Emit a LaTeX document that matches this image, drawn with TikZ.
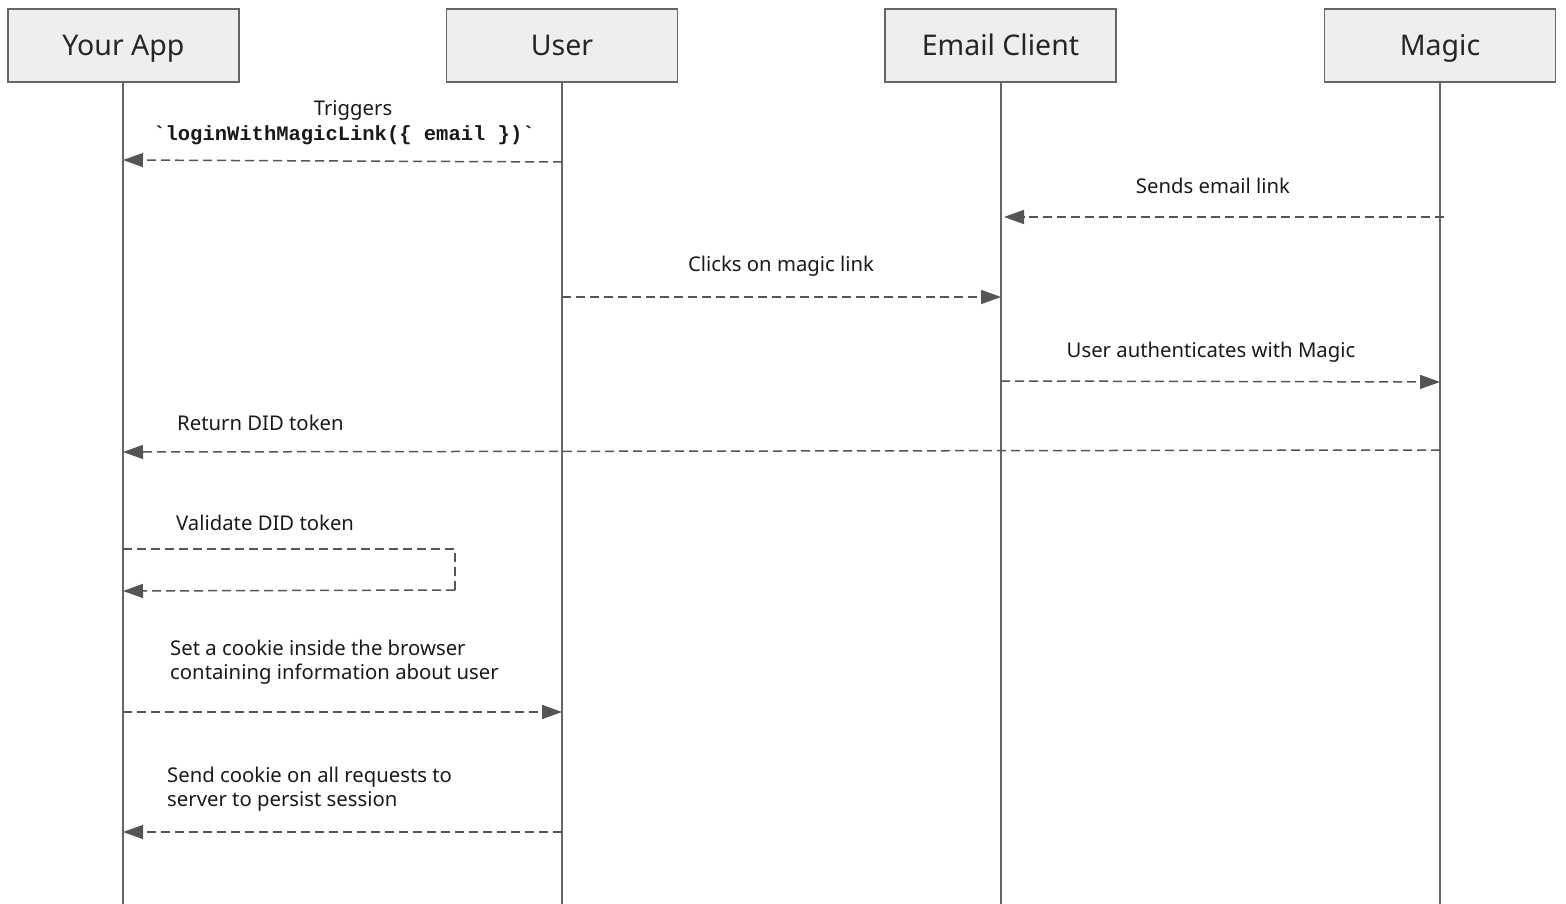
\documentclass[tikz,border=0pt]{standalone}
\usepackage{fontspec}
\setmainfont{Noto Sans}
\setmonofont{Liberation Mono}
\usetikzlibrary{arrows.meta}
\definecolor{boxfill}{HTML}{EEEEEE}
\definecolor{boxline}{HTML}{666666}
\definecolor{msgline}{HTML}{555555}
\begin{document}
\begin{tikzpicture}[x=1pt,y=-1pt,
  actor/.style={draw=boxline,fill=boxfill,line width=1.5pt,minimum width=231pt,minimum height=73pt,inner sep=0pt,text height=25pt,text depth=4pt,font=\fontsize{28.5}{32}\selectfont,text=black!85},
  life/.style={draw=boxline,line width=1.5pt},
  msg/.style={draw=msgline,line width=1.5pt,dash pattern=on 9pt off 5pt,-{Triangle[length=20pt,width=14pt]}},
  loopline/.style={draw=msgline,line width=1.5pt,dash pattern=on 9pt off 5pt},
  lbl/.style={font=\fontsize{20.3}{24}\selectfont,text=black!90,inner sep=0pt,align=center},
  lbll/.style={lbl,align=left,anchor=west}]
\useasboundingbox (0,0) rectangle (1566,904);
% lifelines
\coordinate (a0) at (123,82); \coordinate (a1) at (123,904);
\coordinate (u0) at (562,82); \coordinate (u1) at (562,904);
\coordinate (e0) at (1001,82); \coordinate (e1) at (1001,904);
\coordinate (m0) at (1440,82); \coordinate (m1) at (1440,904);
\draw[life] (a0) -- (a1);
\draw[life] (u0) -- (u1);
\draw[life] (e0) -- (e1);
\draw[life] (m0) -- (m1);
\node[actor] (app) at (123.5,45.5) {Your App};
\node[actor] (user) at (562,45.5) {User};
\node[actor] (email) at (1000.5,45.5) {Email Client};
\node[actor] (magic) at (1440,45.5) {Magic};
% message 1
\coordinate (s1) at (562,162); \coordinate (t1) at (123,160);
\draw[msg] (s1) -- (t1);
\node[lbl] (l1a) at (353,110) {Triggers};
\node[lbl,font=\fontsize{20.5}{24}\selectfont\ttfamily\bfseries] (l1b) at (344,135) {`loginWithMagicLink(\{ email \})`};
% message 2
\coordinate (s2) at (1444,217); \coordinate (t2) at (1004,217);
\draw[msg] (s2) -- (t2);
\node[lbl] (l2) at (1213,186) {Sends email link};
% message 3
\coordinate (s3) at (562,297); \coordinate (t3) at (1001,297);
\draw[msg] (s3) -- (t3);
\node[lbl] (l3) at (781,266) {Clicks on magic link};
% message 4
\coordinate (s4) at (1001,381); \coordinate (t4) at (1440,382);
\draw[msg] (s4) -- (t4);
\node[lbl] (l4) at (1211,352) {User authenticates with Magic};
% message 5
\coordinate (s5) at (1440,450); \coordinate (t5) at (123,452);
\draw[msg] (s5) -- (t5);
\node[lbll] (l5) at (177,423) {Return DID token};
% message 6 (self)
\coordinate (s6) at (123,549); \coordinate (c6a) at (455,549); \coordinate (c6b) at (455,590); \coordinate (t6) at (123,591);
\draw[loopline] (s6) -- (c6a) -- (c6b) -- (455,590.7);
\draw[msg] (c6b) -- (t6);
\node[lbll] (l6) at (176,523) {Validate DID token};
% message 7
\coordinate (s7) at (123,712); \coordinate (t7) at (562,712);
\draw[msg] (s7) -- (t7);
\node[lbll] (l7) at (170,662) {Set a cookie inside the browser\\containing information about user};
% message 8
\coordinate (s8) at (562,832); \coordinate (t8) at (123,832);
\draw[msg] (s8) -- (t8);
\node[lbll] (l8) at (167,789) {Send cookie on all requests to\\server to persist session};
\end{tikzpicture}
\end{document}
